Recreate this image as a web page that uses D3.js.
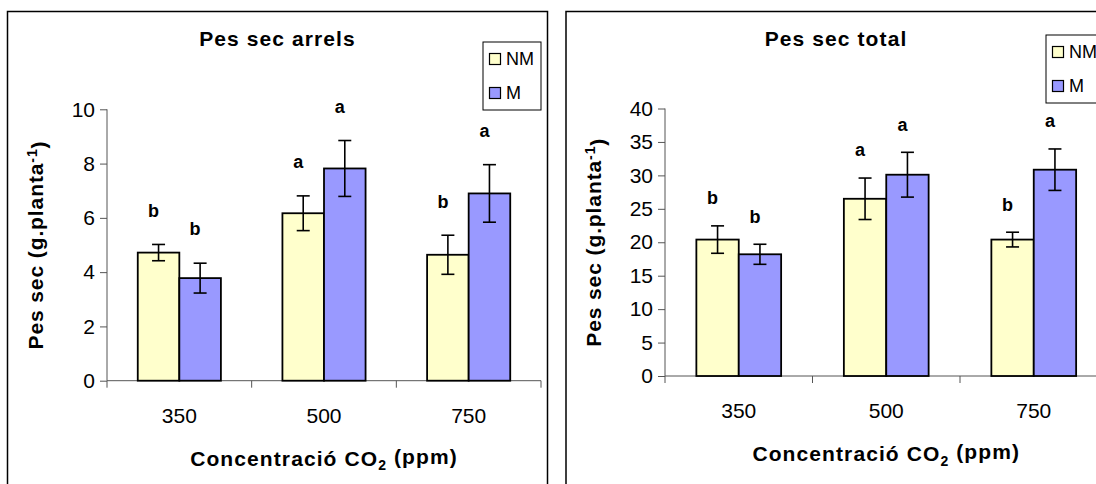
<!DOCTYPE html>
<html lang="ca">
<head>
	<meta charset="utf-8">
	<title>Pes sec</title>
	<script src="https://d3js.org/d3.v7.min.js"></script>
	<style>
	body { margin: 0; background: #fff; }
	text { font-family: "Liberation Sans", Arial, sans-serif; fill: #000; }
	</style>
</head>
<body>
	<script>
	// categories and series
	var categories = ["350", "500", "750"];
	var series = ["NM", "M"];

	// Pes sec arrels
	var rootNM = [4.72, 6.17, 4.64];
	var rootM = [3.78, 7.82, 6.9];
	var rootNMErr = [0.3, 0.64, 0.72];
	var rootMErr = [0.55, 1.03, 1.06];
	var rootNMLetters = ["b", "a", "b"];
	var rootMLetters = ["b", "a", "a"];
	var rootTicks = [0, 2, 4, 6, 8, 10];

	// Pes sec total
	var totalNM = [20.4, 26.5, 20.4];
	var totalM = [18.2, 30.1, 30.85];
	var totalNMErr = [2.05, 3.1, 1.1];
	var totalMErr = [1.5, 3.35, 3.1];
	var totalNMLetters = ["b", "a", "b"];
	var totalMLetters = ["b", "a", "a"];
	var totalTicks = [0, 5, 10, 15, 20, 25, 30, 35, 40];

	var colors = { NM: "#FFFFCC", M: "#9999FF" };

	var svg = d3.select("body").append("svg")
		.attr("width", 1096)
		.attr("height", 484);

	function drawPanel(p) {
		var g = svg.append("g");

		// frame
		g.append("rect")
			.attr("x", p.frameX).attr("y", 11.5)
			.attr("width", 540).attr("height", 500)
			.attr("fill", "#fff").attr("stroke", "#000").attr("stroke-width", 1.5);

		// title
		g.append("text")
			.attr("x", p.frameX + 270).attr("y", 39)
			.attr("dy", "0.35em")
			.attr("text-anchor", "middle")
			.style("font-size", "21px").style("font-weight", "bold").style("letter-spacing", "1.1px")
			.text(p.title);

		var x0 = d3.scaleBand().domain(categories).range([p.left, p.right]);
		var x1 = d3.scaleBand().domain(series).range([0, x0.bandwidth()]).paddingOuter(0.74);
		var y = d3.scaleLinear().domain([0, p.max]).range([p.bottom, p.top]);

		// y axis
		var yAxis = g.append("g")
			.attr("transform", "translate(" + p.left + ",0)")
			.call(d3.axisLeft(y).tickValues(p.ticks).tickSize(7).tickPadding(5));
		yAxis.selectAll("text").style("font-size", "21px").attr("fill", "#000");
		yAxis.selectAll("line, path").attr("stroke", "#555");
		yAxis.select(".domain").attr("d", "M0," + p.top + "V" + p.bottom);

		// x axis, ticks on band edges
		var xAxis = g.append("g").attr("transform", "translate(0," + p.bottom + ")");
		xAxis.append("line")
			.attr("x1", p.left).attr("x2", p.right)
			.attr("stroke", "#555");
		var edges = categories.map(function(c) { return x0(c); }).concat([p.right]);
		xAxis.selectAll(".edge").data(edges).enter().append("line")
			.attr("x1", function(d) { return d; }).attr("x2", function(d) { return d; })
			.attr("y1", 0).attr("y2", 7)
			.attr("stroke", "#555");
		xAxis.selectAll(".lab").data(categories).enter().append("text")
			.attr("x", function(d) { return x0(d) + x0.bandwidth() / 2; })
			.attr("y", 35)
			.attr("dy", "0.35em")
			.attr("text-anchor", "middle")
			.style("font-size", "21px")
			.text(function(d) { return d; });

		// bars + error bars + letters
		var rows = [];
		categories.forEach(function(c, i) {
			rows.push({ cat: c, s: "NM", v: p.nm[i], e: p.nmErr[i], l: p.nmLet[i] });
			rows.push({ cat: c, s: "M", v: p.m[i], e: p.mErr[i], l: p.mLet[i] });
		});

		g.selectAll(".bar").data(rows).enter().append("rect")
			.attr("x", function(d) { return x0(d.cat) + x1(d.s); })
			.attr("y", function(d) { return y(d.v); })
			.attr("width", x1.bandwidth())
			.attr("height", function(d) { return p.bottom - y(d.v); })
			.attr("fill", function(d) { return colors[d.s]; })
			.attr("stroke", "#000").attr("stroke-width", 1.8);

		var eb = g.selectAll(".err").data(rows).enter().append("g")
			.attr("transform", function(d) { return "translate(" + (x0(d.cat) + x1(d.s) + x1.bandwidth() / 2) + ",0)"; });
		eb.append("line")
			.attr("y1", function(d) { return y(d.v + d.e); })
			.attr("y2", function(d) { return y(d.v - d.e); })
			.attr("stroke", "#000").attr("stroke-width", 1.6);
		eb.append("line")
			.attr("x1", -6.5).attr("x2", 6.5)
			.attr("y1", function(d) { return y(d.v + d.e); })
			.attr("y2", function(d) { return y(d.v + d.e); })
			.attr("stroke", "#000").attr("stroke-width", 1.6);
		eb.append("line")
			.attr("x1", -6.5).attr("x2", 6.5)
			.attr("y1", function(d) { return y(d.v - d.e); })
			.attr("y2", function(d) { return y(d.v - d.e); })
			.attr("stroke", "#000").attr("stroke-width", 1.6);
		eb.append("text")
			.attr("x", -5)
			.attr("y", function(d) { return y(d.v + d.e) - p.letterGap; })
			.attr("dy", "0.35em")
			.attr("text-anchor", "middle")
			.style("font-size", "18px").style("font-weight", "bold")
			.text(function(d) { return d.l; });

		// axis titles
		var yt = g.append("text")
			.attr("transform", "translate(" + (p.frameX + 28) + "," + ((p.top + p.bottom) / 2) + ") rotate(-90)")
			.attr("dy", "0.35em")
			.attr("text-anchor", "middle")
			.style("font-size", "21px").style("font-weight", "bold").style("letter-spacing", "0.9px");
		yt.append("tspan").text("Pes sec (g.planta");
		yt.append("tspan").attr("dy", "-0.45em").style("font-size", "14px").text("-1");
		yt.append("tspan").attr("dy", "0.45em").text(")");

		var xt = g.append("text")
			.attr("x", (p.left + p.right) / 2)
			.attr("y", p.bottom + 78)
			.attr("dy", "0.35em")
			.attr("text-anchor", "middle")
			.style("font-size", "21px").style("font-weight", "bold").style("letter-spacing", "1.1px");
		xt.append("tspan").text("Concentració CO");
		xt.append("tspan").attr("dy", "0.3em").style("font-size", "14px").text("2");
		xt.append("tspan").attr("dy", "-0.3em").text(" (ppm)");

		// legend
		var lg = g.append("g").attr("transform", "translate(" + p.legX + "," + p.legY + ")");
		lg.append("rect").attr("width", 58).attr("height", 68)
			.attr("fill", "#fff").attr("stroke", "#000").attr("stroke-width", 1);
		series.forEach(function(s, i) {
			var yy = 17 + i * 34;
			lg.append("rect")
				.attr("x", 6.5).attr("y", yy - 5.5).attr("width", 11).attr("height", 11)
				.attr("fill", colors[s]).attr("stroke", "#000").attr("stroke-width", 1.2);
			lg.append("text")
				.attr("x", 23).attr("y", yy).attr("dy", "0.35em")
				.style("font-size", "18px")
				.text(s);
		});
	}

	drawPanel({
		frameX: 7.5, title: "Pes sec arrels",
		left: 107, right: 541, top: 109.3, bottom: 380.7, max: 10, ticks: rootTicks,
		nm: rootNM, m: rootM, nmErr: rootNMErr, mErr: rootMErr,
		nmLet: rootNMLetters, mLet: rootMLetters, letterGap: 34,
		legX: 483, legY: 42
	});

	drawPanel({
		frameX: 566, title: "Pes sec total",
		left: 665, right: 1107.5, top: 108.5, bottom: 376, max: 40, ticks: totalTicks,
		nm: totalNM, m: totalM, nmErr: totalNMErr, mErr: totalMErr,
		nmLet: totalNMLetters, mLet: totalMLetters, letterGap: 28,
		legX: 1046, legY: 35
	});
	</script>
</body>
</html>
